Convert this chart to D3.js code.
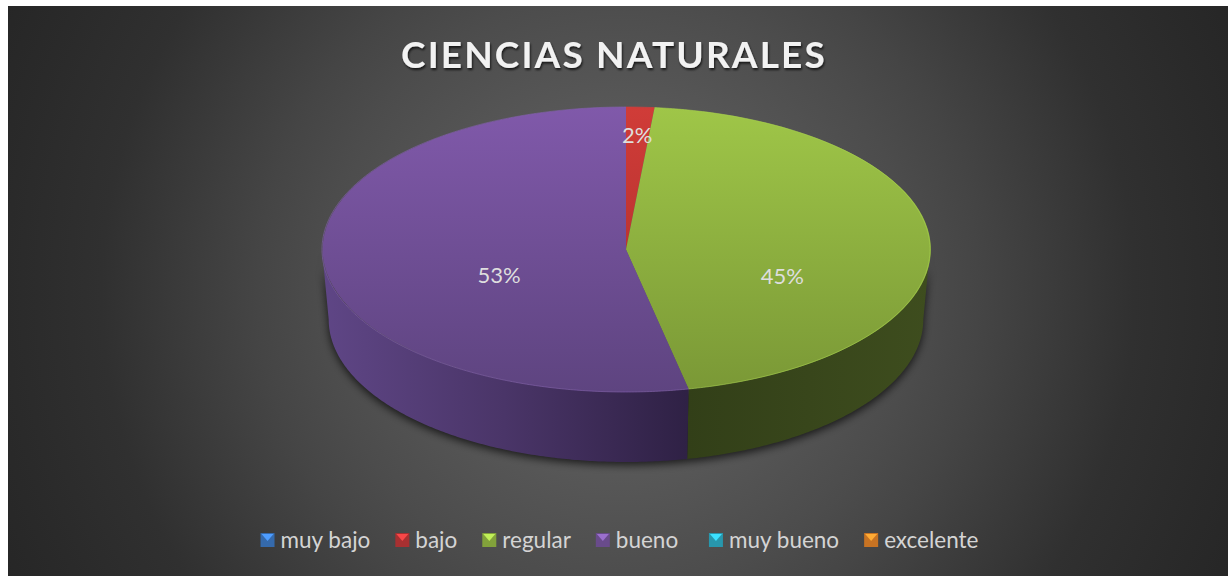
<!DOCTYPE html>
<html>
<head>
<meta charset="utf-8">
<script src="https://cdn.jsdelivr.net/npm/d3@7"></script>
<style>
  body { margin: 0; background: #fff; }
  svg { display: block; }
  text { font-family: Lato, "Open Sans", sans-serif; }
</style>
</head>
<body>
<svg id="chart" width="1228" height="576"></svg>
<script>
const title = 'CIENCIAS NATURALES';
// trailing space on "bueno" is what gives the wider legend gap
const categories = ['muy bajo', 'bajo', 'regular', 'bueno ', 'muy bueno', 'excelente'];
const values = [0, 1.5, 45.2, 53.3, 0, 0];
const colors = ['#3f7fce', '#c8393a', '#9bc247', '#7d5aa6', '#30b5cf', '#ee8a2a'];

// label placement per slice, only the three non empty ones get a label
const labelRadius = [0, 0.79, 0.515, 0.42, 0, 0];
const labelDrop = [0, -3, 30, 19, 0, 0];

const width = 1228, height = 576;
const cx = 626, cy = 249.5, rx = 304, ry = 142.5, depth = 70;
const bottomShrink = 0.978; // far rim is a bit narrower, fake perspective

const svg = d3.select('#chart');
const defs = svg.append('defs');

function vGrad(id, top, bottom) {
  const g = defs.append('linearGradient').attr('id', id)
    .attr('gradientUnits', 'userSpaceOnUse')
    .attr('x1', 0).attr('y1', -1).attr('x2', 0).attr('y2', 1);
  g.append('stop').attr('offset', 0).attr('stop-color', top);
  g.append('stop').attr('offset', 1).attr('stop-color', bottom);
}
function hGrad(id, stops) {
  const g = defs.append('linearGradient').attr('id', id)
    .attr('gradientUnits', 'userSpaceOnUse')
    .attr('x1', cx - rx).attr('y1', 0).attr('x2', cx + rx).attr('y2', 0);
  stops.forEach(s => g.append('stop').attr('offset', s[0]).attr('stop-color', s[1]));
}

// background, round in pixels and not in the box
const bg = defs.append('radialGradient').attr('id', 'bg')
  .attr('gradientUnits', 'userSpaceOnUse')
  .attr('cx', 618).attr('cy', 291).attr('r', 680);
[[0, '#5c5c5c'], [0.26, '#585858'], [0.44, '#4c4c4c'], [0.53, '#454545'],
 [0.76, '#303030'], [0.9, '#2a2a2a'], [1, '#262626']].forEach(s => {
  bg.append('stop').attr('offset', s[0]).attr('stop-color', s[1]);
});

svg.append('rect').attr('x', 8).attr('y', 6)
  .attr('width', width - 8).attr('height', height - 6)
  .attr('fill', 'url(#bg)');

vGrad('top1', '#d03c38', '#a82c2a');
vGrad('top2', '#9fc648', '#7a9836');
vGrad('top3', '#8059aa', '#5e4480');
hGrad('wall2', [[0, '#3a471c'], [0.6, '#323f18'], [1, '#3e4d1e']]);
hGrad('wall3', [[0, '#5f4686'], [0.3, '#4a3568'], [0.6, '#2f2145'], [1, '#2f2145']]);

const blur = defs.append('filter').attr('id', 'soft')
  .attr('x', '-10%').attr('y', '-10%').attr('width', '120%').attr('height', '120%');
blur.append('feGaussianBlur').attr('stdDeviation', 4);

const titleShadow = defs.append('filter').attr('id', 'titleShadow');
titleShadow.append('feDropShadow').attr('dx', 1).attr('dy', 2)
  .attr('stdDeviation', 1.2).attr('flood-color', '#000').attr('flood-opacity', 0.7);

// pie layout, angles run clockwise from the top
const pie = d3.pie().sort(null).value(d => d);
const slices = pie(values);

const xs = d3.scaleLinear().domain([-1, 1]).range([cx - rx, cx + rx]);
const ys = d3.scaleLinear().domain([-1, 1]).range([cy - ry, cy + ry]);

const rimPoint = (a, drop, shrink) => [xs(Math.sin(a) * shrink), ys(-Math.cos(a)) + drop];

// side wall of a slice, only the part facing the viewer
function wall(d) {
  const a0 = Math.max(d.startAngle, Math.PI / 2);
  const a1 = Math.min(d.endAngle, Math.PI * 1.5);
  if (a1 <= a0) return null;
  const angles = d3.range(a0, a1, 0.01).concat([a1]);
  const pts = angles.map(a => rimPoint(a, 0, 1))
    .concat(angles.slice().reverse().map(a => rimPoint(a, depth, bottomShrink)));
  return d3.line()(pts) + 'Z';
}

// soft shadow under the body
svg.append('g').attr('filter', 'url(#soft)')
  .selectAll('path')
  .data(slices)
  .join('path')
  .attr('d', wall)
  .attr('transform', 'translate(0,3)')
  .attr('fill', '#000')
  .attr('opacity', 0.7);

svg.append('g').selectAll('path')
  .data(slices)
  .join('path')
  .attr('d', wall)
  .attr('fill', (d, i) => 'url(#wall' + i + ')');

// top face: unit arc squashed into the ellipse
const arc = d3.arc().innerRadius(0).outerRadius(1);
const topFace = svg.append('g')
  .attr('transform', `translate(${cx},${cy}) scale(${rx},${ry})`);

topFace.selectAll('path')
  .data(slices)
  .join('path')
  .attr('d', arc)
  .attr('fill', (d, i) => 'url(#top' + i + ')');

// faint light line round the front of the top face
const rimLine = d3.line();
svg.append('g').selectAll('path')
  .data(slices.filter(d => d.endAngle > d.startAngle))
  .join('path')
  .attr('d', d => rimLine(d3.range(d.startAngle, d.endAngle, 0.01).concat([d.endAngle]).map(a => rimPoint(a, 0, 1))))
  .attr('fill', 'none')
  .attr('stroke', d => d3.color(colors[d.index]).brighter(0.2))
  .attr('stroke-opacity', 0.6)
  .attr('stroke-width', 1);

// percent labels
const total = d3.sum(values);
svg.append('g').selectAll('text')
  .data(slices.filter(d => d.value > 0))
  .join('text')
  .attr('x', d => xs(Math.sin((d.startAngle + d.endAngle) / 2) * labelRadius[d.index]))
  .attr('y', d => ys(-Math.cos((d.startAngle + d.endAngle) / 2) * labelRadius[d.index]) + labelDrop[d.index])
  .attr('text-anchor', 'middle')
  .attr('dominant-baseline', 'central')
  .attr('font-size', 22)
  .attr('fill', '#dedede')
  .text(d => Math.round(d.value / total * 100) + '%');

// title
svg.append('text')
  .attr('x', 614).attr('y', 68)
  .attr('text-anchor', 'middle')
  .attr('font-size', 37)
  .attr('font-weight', 700)
  .attr('letter-spacing', 2.15)
  .attr('fill', '#f2f2f2')
  .attr('filter', 'url(#titleShadow)')
  .text(title);

// legend, laid out from measured text then centred
const legendY = 539, box = 14, boxGap = 6, itemGap = 25;
const legend = svg.append('g');
const items = legend.selectAll('g')
  .data(categories)
  .join('g');

items.append('rect')
  .attr('x', 0).attr('y', 1 - box / 2)
  .attr('width', box).attr('height', box)
  .attr('fill', (d, i) => d3.color(colors[i]).darker(0.5));

items.append('path')
  .attr('d', d3.line()([[1, 2 - box / 2], [box - 1, 2 - box / 2], [box / 2, 2]]) + 'Z')
  .attr('fill', (d, i) => d3.color(colors[i]).brighter(0.6));

items.append('text')
  .attr('x', box + boxGap)
  .attr('y', 0)
  .attr('dominant-baseline', 'central')
  .attr('font-size', 22.5)
  .attr('fill', '#d4d4d4')
  .attr('xml:space', 'preserve')
  .style('white-space', 'pre')
  .text(d => d);

let lx = 0;
items.each(function () {
  const w = d3.select(this).select('text').node().getComputedTextLength();
  d3.select(this).attr('transform', `translate(${lx},${legendY})`);
  lx += box + boxGap + w + itemGap;
});
legend.attr('transform', `translate(${(261 + 978 - (lx - itemGap)) / 2},0)`);
</script>
</body>
</html>
